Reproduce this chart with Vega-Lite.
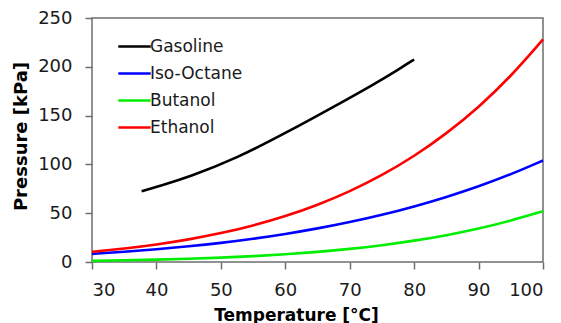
{
  "$schema": "https://vega.github.io/schema/vega-lite/v6.json",
  "width": 451,
  "height": 244,
  "autosize": {"type": "none"},
  "padding": {"left": 92, "top": 18, "right": 18, "bottom": 61},
  "background": "white",
  "config": {
    "view": {"stroke": "#6e6e6e", "strokeWidth": 1.5},
    "font": "DejaVu Sans",
    "axis": {
      "grid": false,
      "domain": false,
      "tickColor": "#6e6e6e",
      "tickWidth": 1.5,
      "tickSize": 7,
      "labelFont": "DejaVu Sans",
      "labelFontSize": 18,
      "labelColor": "#1a1a1a",
      "titleFont": "DejaVu Sans",
      "titleFontWeight": "bold",
      "titleColor": "#000000"
    }
  },
  "data": {
    "values": [
      {"t": 37.7, "p": 72.5, "fuel": "Gasoline"},
      {"t": 41.0, "p": 79.0, "fuel": "Gasoline"},
      {"t": 45.0, "p": 87.0, "fuel": "Gasoline"},
      {"t": 52.5, "p": 106.5, "fuel": "Gasoline"},
      {"t": 60.0, "p": 132.0, "fuel": "Gasoline"},
      {"t": 67.5, "p": 159.0, "fuel": "Gasoline"},
      {"t": 74.0, "p": 183.0, "fuel": "Gasoline"},
      {"t": 77.5, "p": 197.0, "fuel": "Gasoline"},
      {"t": 80.0, "p": 207.5, "fuel": "Gasoline"},

      {"t": 30, "p": 8.3, "fuel": "Iso-Octane"},
      {"t": 35, "p": 10.4, "fuel": "Iso-Octane"},
      {"t": 40, "p": 13.0, "fuel": "Iso-Octane"},
      {"t": 45, "p": 16.0, "fuel": "Iso-Octane"},
      {"t": 50, "p": 19.5, "fuel": "Iso-Octane"},
      {"t": 55, "p": 23.7, "fuel": "Iso-Octane"},
      {"t": 60, "p": 28.6, "fuel": "Iso-Octane"},
      {"t": 65, "p": 34.3, "fuel": "Iso-Octane"},
      {"t": 70, "p": 40.8, "fuel": "Iso-Octane"},
      {"t": 75, "p": 48.2, "fuel": "Iso-Octane"},
      {"t": 80, "p": 56.8, "fuel": "Iso-Octane"},
      {"t": 85, "p": 66.5, "fuel": "Iso-Octane"},
      {"t": 90, "p": 77.4, "fuel": "Iso-Octane"},
      {"t": 95, "p": 89.7, "fuel": "Iso-Octane"},
      {"t": 100, "p": 104.0, "fuel": "Iso-Octane"},

      {"t": 30, "p": 1.2, "fuel": "Butanol"},
      {"t": 35, "p": 1.7, "fuel": "Butanol"},
      {"t": 40, "p": 2.4, "fuel": "Butanol"},
      {"t": 45, "p": 3.3, "fuel": "Butanol"},
      {"t": 50, "p": 4.4, "fuel": "Butanol"},
      {"t": 55, "p": 5.9, "fuel": "Butanol"},
      {"t": 60, "p": 7.9, "fuel": "Butanol"},
      {"t": 65, "p": 10.3, "fuel": "Butanol"},
      {"t": 70, "p": 13.3, "fuel": "Butanol"},
      {"t": 75, "p": 17.1, "fuel": "Butanol"},
      {"t": 80, "p": 21.7, "fuel": "Butanol"},
      {"t": 85, "p": 27.3, "fuel": "Butanol"},
      {"t": 90, "p": 34.1, "fuel": "Butanol"},
      {"t": 95, "p": 42.2, "fuel": "Butanol"},
      {"t": 100, "p": 52.0, "fuel": "Butanol"},

      {"t": 30, "p": 10.4, "fuel": "Ethanol"},
      {"t": 35, "p": 13.7, "fuel": "Ethanol"},
      {"t": 40, "p": 17.8, "fuel": "Ethanol"},
      {"t": 45, "p": 23.0, "fuel": "Ethanol"},
      {"t": 50, "p": 29.4, "fuel": "Ethanol"},
      {"t": 55, "p": 37.2, "fuel": "Ethanol"},
      {"t": 60, "p": 46.7, "fuel": "Ethanol"},
      {"t": 65, "p": 58.3, "fuel": "Ethanol"},
      {"t": 70, "p": 72.2, "fuel": "Ethanol"},
      {"t": 75, "p": 88.7, "fuel": "Ethanol"},
      {"t": 80, "p": 108.3, "fuel": "Ethanol"},
      {"t": 85, "p": 131.4, "fuel": "Ethanol"},
      {"t": 90, "p": 158.4, "fuel": "Ethanol"},
      {"t": 95, "p": 190.0, "fuel": "Ethanol"},
      {"t": 100, "p": 228.0, "fuel": "Ethanol"}
    ]
  },
  "mark": {"type": "line", "interpolate": "basis", "strokeWidth": 2.6},
  "encoding": {
    "x": {
      "field": "t",
      "type": "quantitative",
      "scale": {"domain": [30, 100], "nice": false, "zero": false},
      "axis": {
        "values": [30, 40, 50, 60, 70, 80, 90, 100],
        "labelPadding": 12,
        "title": "Temperature [°C]",
        "titleFontSize": 17,
        "titleAnchor": "start",
        "titleAlign": "center",
        "titleBaseline": "alphabetic",
        "titleX": 204,
        "titleY": 58
      }
    },
    "y": {
      "field": "p",
      "type": "quantitative",
      "scale": {"domain": [0, 250], "nice": false},
      "axis": {
        "values": [0, 50, 100, 150, 200, 250],
        "labelPadding": 13,
        "title": "Pressure [kPa]",
        "titleFontSize": 18,
        "titleAngle": -90,
        "titleAlign": "center",
        "titleBaseline": "alphabetic",
        "titleX": -66,
        "titleY": 118
      }
    },
    "color": {
      "field": "fuel",
      "type": "nominal",
      "scale": {
        "domain": ["Gasoline", "Iso-Octane", "Butanol", "Ethanol"],
        "range": ["#000000", "#0000ff", "#00ee00", "#ff0000"]
      },
      "legend": {
        "title": null,
        "orient": "none",
        "legendX": 27.5,
        "legendY": 13.5,
        "padding": 0,
        "rowPadding": 4,
        "symbolType": "M-1.2,0H1.2",
        "symbolSize": 729,
        "symbolStrokeWidth": 2.6,
        "labelFont": "DejaVu Sans",
        "labelFontSize": 17,
        "labelColor": "#1a1a1a",
        "labelOffset": 0.5
      }
    }
  }
}
